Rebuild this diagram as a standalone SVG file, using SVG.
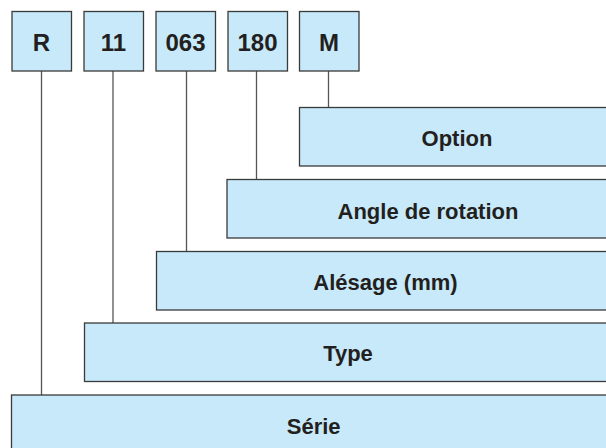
<svg xmlns="http://www.w3.org/2000/svg" width="606" height="448" viewBox="0 0 606 448">
<style>
.box{fill:#c7e9f9;stroke:#3a3a3a;stroke-width:1.3}
.t{font-family:"Liberation Sans",Arial,sans-serif;font-weight:bold;font-size:22px;fill:#231f20;text-anchor:middle}
.k{font-size:24px}
.c{stroke:#555;stroke-width:1.3;fill:none}
</style>
<rect width="606" height="448" fill="#fff"/>
<g id="connectors">
<line class="c" x1="41.5" y1="71" x2="41.5" y2="395"/>
<line class="c" x1="113" y1="71" x2="113" y2="323"/>
<line class="c" x1="186.5" y1="71" x2="186.5" y2="251"/>
<line class="c" x1="256.5" y1="71" x2="256.5" y2="179"/>
<line class="c" x1="328.5" y1="71" x2="328.5" y2="107"/>
</g>
<g id="code-R"><rect class="box" x="12" y="11.5" width="59.5" height="59.5"/><text class="t k" x="41.5" y="50.5">R</text></g>
<g id="code-11"><rect class="box" x="84" y="11.5" width="59.5" height="59.5"/><text class="t k" x="113.5" y="50.5">11</text></g>
<g id="code-063"><rect class="box" x="156" y="11.5" width="59.5" height="59.5"/><text class="t k" x="185.5" y="50.5">063</text></g>
<g id="code-180"><rect class="box" x="228" y="11.5" width="59.5" height="59.5"/><text class="t k" x="257.5" y="50.5">180</text></g>
<g id="code-M"><rect class="box" x="299.5" y="11.5" width="59.5" height="59.5"/><text class="t k" x="329" y="50.5">M</text></g>
<g id="option"><rect class="box" x="299.5" y="107.5" width="320" height="58.5"/><text class="t" x="457" y="145.5">Option</text></g>
<g id="angle"><rect class="box" x="227" y="179.5" width="390" height="58.5"/><text class="t" x="428" y="218.5">Angle de rotation</text></g>
<g id="alesage"><rect class="box" x="156.5" y="251.5" width="460" height="58.5"/><text class="t" x="385.5" y="289.5">Alésage (mm)</text></g>
<g id="type"><rect class="box" x="84.5" y="323" width="530" height="58.5"/><text class="t" x="348" y="361">Type</text></g>
<g id="serie"><rect class="box" x="11.5" y="395" width="610" height="70"/><text class="t" x="313.7" y="433.5">Série</text></g>
</svg>
